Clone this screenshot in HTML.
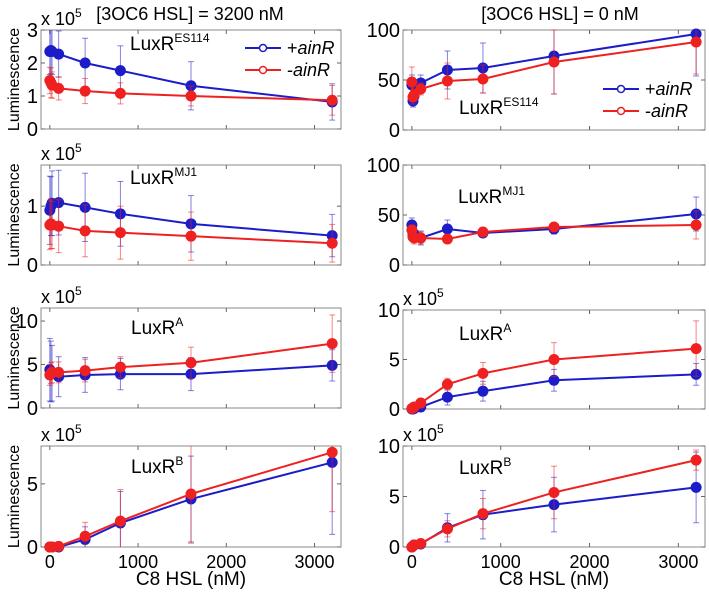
<!DOCTYPE html>
<html><head><meta charset="utf-8"><style>
html,body{margin:0;padding:0;background:#fff;}
svg{display:block;font-family:"Liberation Sans",Arial,sans-serif;}
</style></head><body>
<svg id="chart" width="709" height="595" viewBox="0 0 709 595" xmlns="http://www.w3.org/2000/svg">
<text x="190" y="20" font-size="18" text-anchor="middle">[3OC6 HSL] = 3200 nM</text>
<text x="560" y="20" font-size="18" text-anchor="middle">[3OC6 HSL] = 0 nM</text>
</svg>
<script>
const xVals = [0, 12.5, 25, 100, 400, 800, 1600, 3200];
const xTicks = [0, 1000, 2000, 3000];
// panel data (left column: 3200 nM, right column: 0 nM)
const p1LBlue = [2.35,2.38,2.35,2.27,2.0,1.77,1.31,0.82];
const p1LBlueErr = [0.7,0.7,0.7,0.7,0.75,0.75,0.73,0.55];
const p1LRed = [1.47,1.4,1.33,1.23,1.15,1.08,1.0,0.87];
const p1LRedErr = [0.4,0.45,0.4,0.35,0.38,0.32,0.3,0.45];
const p1RBlue = [45,29,34,47,60,62,74,96];
const p1RBlueErr = [10,6,8,8,19,25,38,42];
const p1RRed = [48,33,35,41,49,51,68,88];
const p1RRedErr = [15,7,6,6,18,14,32,32];
const p2LBlue = [0.93,1.0,1.05,1.06,0.98,0.87,0.70,0.50];
const p2LBlueErr = [0.58,0.5,0.55,0.55,0.58,0.55,0.48,0.36];
const p2LRed = [0.68,0.7,0.68,0.66,0.58,0.55,0.49,0.37];
const p2LRedErr = [0.42,0.42,0.4,0.45,0.44,0.45,0.41,0.32];
const p2RBlue = [40,30,31,27,36,32,36,51];
const p2RBlueErr = [7,5,5,7,9,3,5,17];
const p2RRed = [35,28,27,27,26,33,38,40];
const p2RRedErr = [5,4,6,6,3,3,4,14];
const p3LBlue = [4.4,4.2,4.0,3.6,3.8,3.9,3.9,4.9];
const p3LBlueErr = [3.6,3.5,3.2,2.3,2.0,1.8,1.9,1.8];
const p3LRed = [3.8,4.0,4.1,4.1,4.3,4.7,5.2,7.4];
const p3LRedErr = [1.2,1.2,1.2,1.2,1.3,1.2,1.8,3.3];
const p3RBlue = [0,0,0.05,0.2,1.2,1.8,2.9,3.5];
const p3RBlueErr = [0.1,0.1,0.1,0.2,0.8,1.0,1.1,1.1];
const p3RRed = [0.05,0.1,0.2,0.6,2.5,3.6,5.0,6.1];
const p3RRedErr = [0.1,0.1,0.2,0.3,0.6,1.1,1.7,2.8];
const p4LBlue = [0,0,0,0,0.6,1.9,3.8,6.7];
const p4LBlueErr = [0.05,0.05,0.05,0.1,1.0,2.5,3.4,5.7];
const p4LRed = [0,0,0,0.05,0.85,2.05,4.2,7.5];
const p4LRedErr = [0.05,0.05,0.05,0.1,1.1,2.5,3.9,4.7];
const p4RBlue = [0,0.1,0.2,0.3,1.9,3.2,4.2,5.9];
const p4RBlueErr = [0.1,0.2,0.3,0.4,1.4,2.4,2.7,3.5];
const p4RRed = [0,0.1,0.2,0.35,1.8,3.3,5.4,8.6];
const p4RRedErr = [0.1,0.2,0.3,0.4,0.8,1.5,2.6,1.0];

const svg = document.getElementById('chart');
const NS = 'http://www.w3.org/2000/svg';
const BLUE = '#1c1cc8', RED = '#ee2020';
function mk(tag, attrs, parent){const e=document.createElementNS(NS,tag);for(const k in attrs)e.setAttribute(k,attrs[k]);(parent||svg).appendChild(e);return e;}

const panels = [
 {id:'p1-left', x0:41,x1:341,y0:30,y1:129,ymax:3,yt:[0,1,2,3],exp:true,label:'ES114',lx:130,ly:50,blue:p1LBlue,be:p1LBlueErr,red:p1LRed,re:p1LRedErr,leg:{x:245,y:48},ylab:true},
 {id:'p1-right',x0:403,x1:705,y0:30,y1:130,ymax:100,yt:[0,50,100],exp:false,label:'ES114',lx:459,ly:114,blue:p1RBlue,be:p1RBlueErr,red:p1RRed,re:p1RRedErr,leg:{x:603,y:89}},
 {id:'p2-left', x0:41,x1:341,y0:165,y1:265,ymax:1.7,yt:[0,1],exp:true,label:'MJ1',lx:130,ly:184,blue:p2LBlue,be:p2LBlueErr,red:p2LRed,re:p2LRedErr,ylab:true},
 {id:'p2-right',x0:403,x1:705,y0:165,y1:265,ymax:100,yt:[0,50,100],exp:false,label:'MJ1',lx:458,ly:203,blue:p2RBlue,be:p2RBlueErr,red:p2RRed,re:p2RRedErr},
 {id:'p3-left', x0:41,x1:341,y0:308,y1:408,ymax:11.5,yt:[0,5,10],exp:true,label:'A',lx:131,ly:334,blue:p3LBlue,be:p3LBlueErr,red:p3LRed,re:p3LRedErr,ylab:true},
 {id:'p3-right',x0:403,x1:705,y0:310,y1:409,ymax:10,yt:[0,5,10],exp:true,label:'A',lx:459,ly:340,blue:p3RBlue,be:p3RBlueErr,red:p3RRed,re:p3RRedErr},
 {id:'p4-left', x0:41,x1:341,y0:446,y1:547,ymax:8,yt:[0,5],exp:true,label:'B',lx:131,ly:473,blue:p4LBlue,be:p4LBlueErr,red:p4LRed,re:p4LRedErr,ylab:true,xl:true},
 {id:'p4-right',x0:403,x1:705,y0:446,y1:547,ymax:10,yt:[0,5,10],exp:true,label:'B',lx:459,ly:474,blue:p4RBlue,be:p4RBlueErr,red:p4RRed,re:p4RRedErr,xl:true},
];

panels.forEach(p=>{
  const g = mk('g',{});
  
  
  const xs = v => p.x0 + (v+100)/3400*(p.x1-p.x0);
  const ys = v => p.y1 - v/p.ymax*(p.y1-p.y0);
  const frame = mk('rect',{x:p.x0,y:p.y0,width:p.x1-p.x0,height:p.y1-p.y0,fill:'none',stroke:'#888','stroke-width':1},g);
  
  
  xTicks.forEach(t=>{
    const X=xs(t);
    mk('line',{x1:X,x2:X,y1:p.y1,y2:p.y1-4,stroke:'#666'},g);
    mk('line',{x1:X,x2:X,y1:p.y0,y2:p.y0+4,stroke:'#666'},g);
    if(p.xl){
      const tl=mk('text',{x:X,y:p.y1+21,'font-size':18,'text-anchor':'middle'},g);
      tl.textContent=t;
      
      
    }
  });
  p.yt.forEach(t=>{
    const Y=ys(t);
    mk('line',{x1:p.x0,x2:p.x0+4,y1:Y,y2:Y,stroke:'#666'},g);
    mk('line',{x1:p.x1,x2:p.x1-4,y1:Y,y2:Y,stroke:'#666'},g);
    const tl=mk('text',{x:p.x0-3,y:Y+7,'font-size':20,'text-anchor':'end'},g);
    tl.textContent=t;
    
    
  });
  if(p.exp){
    const e=mk('text',{x:p.x0,y:p.y0-5,'font-size':18},g);
    e.innerHTML='x 10<tspan dy="-8" font-size="12">5</tspan>';
    
    
  }
  if(p.ylab){
    const yl=mk('text',{x:0,y:0,'font-size':16,'text-anchor':'middle',transform:`translate(19,${(p.y0+p.y1)/2}) rotate(-90)`},g);
    yl.textContent='Luminescence';
    
    
  }
  if(p.xl){
    const xl=mk('text',{x:(p.x0+p.x1)/2,y:p.y1+38,'font-size':19,'text-anchor':'middle'},g);
    xl.textContent='C8 HSL  (nM)';
    
    
  }
  const lb=mk('text',{x:p.lx,y:p.ly,'font-size':19},g);
  lb.innerHTML='LuxR<tspan dy="-8" font-size="12">'+p.label+'</tspan>';
  
  
  [[p.blue,p.be,BLUE,'blue'],[p.red,p.re,RED,'red']].forEach(([vals,errs,col,nm])=>{
    const sg=mk('g',{},g);
    
    
    vals.forEach((v,i)=>{
      const X=xs(xVals[i]);
      const lo=Math.max(0,v-errs[i]), hi=Math.min(p.ymax,v+errs[i]);
      mk('line',{x1:X,x2:X,y1:ys(lo),y2:ys(hi),stroke:col,'stroke-opacity':0.55,'stroke-width':1},sg);
      if(v-errs[i]>=0) mk('line',{x1:X-3,x2:X+3,y1:ys(lo),y2:ys(lo),stroke:col,'stroke-opacity':0.55},sg);
      if(v+errs[i]<=p.ymax) mk('line',{x1:X-3,x2:X+3,y1:ys(hi),y2:ys(hi),stroke:col,'stroke-opacity':0.55},sg);
    });
    const pl=mk('polyline',{points:vals.map((v,i)=>xs(xVals[i])+','+ys(v)).join(' '),fill:'none',stroke:col,'stroke-width':2},sg);
    
    
    vals.forEach((v,i)=>{
      const c=mk('circle',{cx:xs(xVals[i]),cy:ys(v),r:5.5,fill:col},sg);
      
      
    });
  });
  if(p.leg){
    [['+',BLUE,0],['-',RED,22]].forEach(([s,col,dy])=>{
      const lg=mk('g',{},g);
      
      
      mk('line',{x1:p.leg.x,x2:p.leg.x+36,y1:p.leg.y+dy,y2:p.leg.y+dy,stroke:col,'stroke-width':2},lg);
      mk('circle',{cx:p.leg.x+18,cy:p.leg.y+dy,r:3.5,fill:'#fff',stroke:col,'stroke-width':1.5},lg);
      const t=mk('text',{x:p.leg.x+42,y:p.leg.y+dy+6,'font-size':18},lg);
      t.innerHTML=s+'<tspan font-style="italic">ainR</tspan>';
    });
  }
});
</script>
</body></html>
